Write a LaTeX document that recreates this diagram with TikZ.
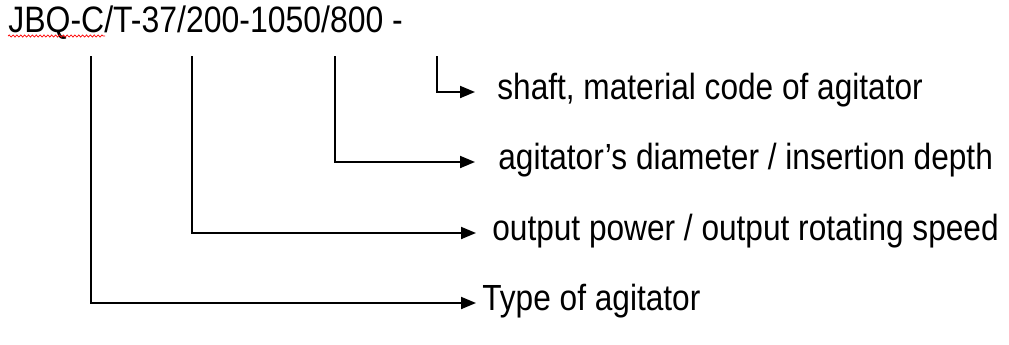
\documentclass[tikz,border=0pt]{standalone}
\usepackage{fontspec}
\setmainfont{Liberation Sans}
\usetikzlibrary{arrows.meta,decorations.pathmorphing}

\newcommand{\tall}[1]{\scalebox{1}[1.15]{#1}}

\begin{document}
\begin{tikzpicture}[x=0.02cm, y=-0.02cm, line cap=butt, line join=miter]

    \useasboundingbox (0,0) rectangle (1009,345);

    \tikzset{
      lbl/.style={anchor=west, inner sep=0pt, font=\fontsize{18}{20}\selectfont,
        text height=0.9em, text depth=0pt},
      lead/.style={black, line width=1.1pt,
        -{Triangle[length=0.3cm, width=0.24cm]}}
    }

    \node[anchor=base west, inner sep=0pt, font=\fontsize{18.2}{20}\selectfont]
      (code) at (8,32) {\tall{JBQ-C/T-37/200-1050/800 -}};
    \draw[red, line width=0.4pt, decorate,
      decoration={snake, amplitude=0.6pt, segment length=2.2pt}] (8,36) -- (105,36);

    \coordinate (p1) at (91,56);
    \coordinate (p2) at (192,56);
    \coordinate (p3) at (335,56);
    \coordinate (p4) at (437,56);

    \node[lbl] (mat) at (497,92) {\tall{shaft, material code of agitator}};
    \node[lbl] (dia) at (498,162) {\tall{agitator’s diameter / insertion depth}};
    \node[lbl] (pwr) at (492,233) {\tall{output power / output rotating speed}};
    \node[lbl] (typ) at (482,303) {\tall{Type of agitator}};

    \draw[lead, shorten >=0.44cm] (p4) |- (mat.west);
    \draw[lead, shorten >=0.46cm] (p3) |- (dia.west);
    \draw[lead, shorten >=0.32cm] (p2) |- (pwr.west);
    \draw[lead, shorten >=0.12cm] (p1) |- (typ.west);

\end{tikzpicture}
\end{document}
